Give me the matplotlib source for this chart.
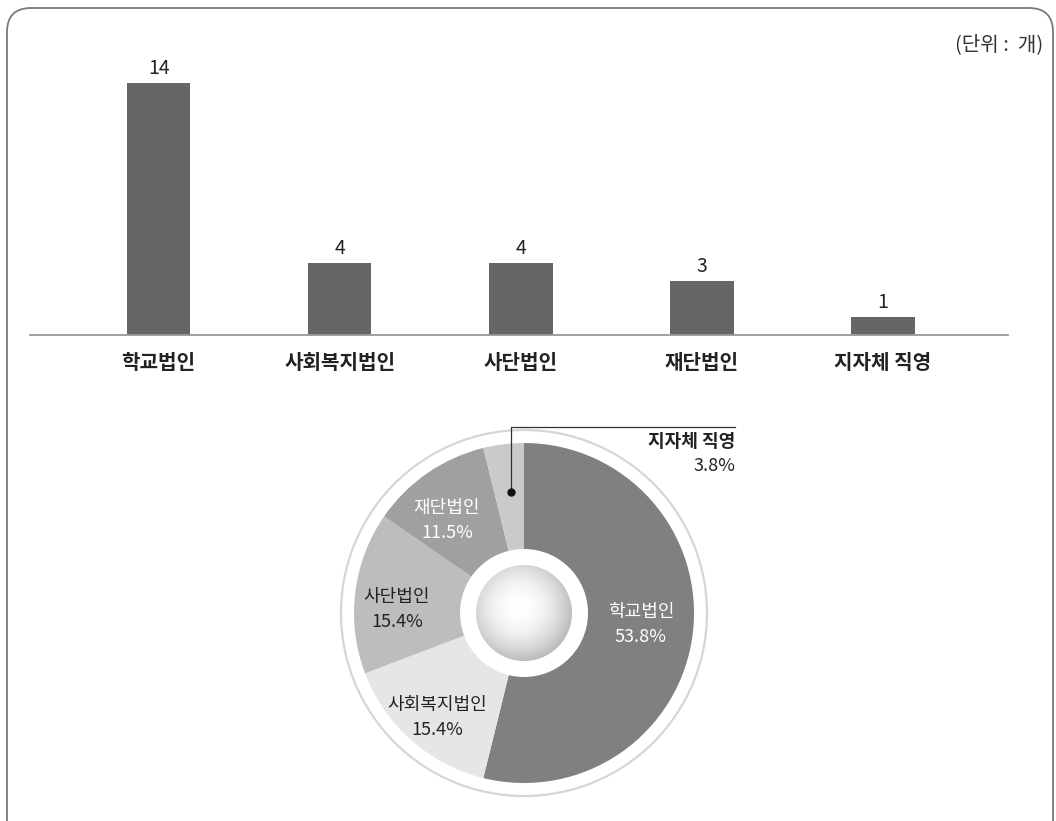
import numpy as np
import matplotlib
matplotlib.use('Agg')
import matplotlib.pyplot as plt
from matplotlib.patches import FancyBboxPatch, Circle

plt.rcParams['font.family'] = ['Noto Sans CJK KR', 'DejaVu Sans']

categories = ['학교법인', '사회복지법인', '사단법인', '재단법인', '지자체 직영']
counts = [14, 4, 4, 3, 1]
shares = [53.8, 15.4, 15.4, 11.5, 3.8]
unit_label = '(단위 :  개)'

bar_color = '#666666'
pie_colors = ['#808080', '#e6e6e6', '#bdbdbd', '#a0a0a0', '#cacaca']
label_colors = ['white', '#222222', '#222222', 'white', '#222222']
label_weights = ['normal', 'medium', 'medium', 'normal']

W, H = 1056, 821
fig = plt.figure(figsize=(W / 100, H / 100), dpi=100)

# background axes in pixel coordinates (y up)
bg = fig.add_axes([0, 0, 1, 1])
bg.set_xlim(0, W)
bg.set_ylim(0, H)
bg.axis('off')

border = FancyBboxPatch((7, -40), 1046, H - 8 + 40, boxstyle='round,pad=0,rounding_size=24',
                        fc='none', ec='#7a7a7a', lw=1.3)
bg.add_patch(border)
bg.text(1043, H - 45, unit_label, ha='right', va='center', fontsize=14.5, color='#333333')

# bar chart
base_px = 335
top_px = 60
ax = fig.add_axes([30 / W, (H - base_px) / H, (1008 - 30) / W, (base_px - top_px) / H])
x = np.arange(len(categories))
ax.bar(x, counts, width=0.35, color=bar_color)
ax.set_xlim(-0.71, 4.69)
ax.set_ylim(0, (base_px - top_px) / 18.0)
for xi, v in zip(x, counts):
    ax.text(xi, v + 0.2, str(v), ha='center', va='bottom', fontsize=14, color='#222222')
for s in ['top', 'right', 'left']:
    ax.spines[s].set_visible(False)
ax.spines['bottom'].set_color('#999999')
ax.spines['bottom'].set_linewidth(1.3)
ax.set_yticks([])
ax.set_xticks(x)
ax.set_xticklabels(categories, fontsize=14.5, fontweight='bold', color='#222222')
ax.tick_params(axis='x', length=0, pad=12)

# donut chart drawn in pixel coordinates
cx, cy = 524, H - 613
R = 170
bg.pie(counts, colors=pie_colors, startangle=90, counterclock=False, center=(cx, cy),
       radius=R, frame=True, wedgeprops=dict(width=R - 64, linewidth=0))
bg.set_xlim(0, W)
bg.set_ylim(0, H)
bg.set_aspect('auto')
bg.axis('off')

bg.add_patch(Circle((cx, cy), 183, fc='none', ec='#d6d6d6', lw=1.6))

# shaded sphere in the hole
rs = 48
n = 200
gx, gy = np.meshgrid(np.linspace(-rs, rs, n), np.linspace(-rs, rs, n))
d = np.sqrt((gx + 5) ** 2 + (gy - 6) ** 2) / (rs * 1.1)
shade = np.clip(1.0 - 0.25 * d ** 2.0, 0, 1)
img = bg.imshow(shade, cmap='gray', vmin=0, vmax=1, origin='lower',
                extent=(cx - rs, cx + rs, cy - rs, cy + rs), zorder=3)
clip = Circle((cx, cy), rs, transform=bg.transData)
img.set_clip_path(clip)
bg.set_xlim(0, W)
bg.set_ylim(0, H)

# wedge labels
label_pos = [(641, 612), (437, 705), (397, 597), (447, 508)]
for i, (lx, ly) in enumerate(label_pos):
    bg.text(lx, H - ly, categories[i], ha='center', va='center', fontsize=13,
            color=label_colors[i], fontweight=label_weights[i], zorder=4)
    bg.text(lx, H - ly - 25, f'{shares[i]}%', ha='center', va='center', fontsize=13,
            color=label_colors[i], fontweight=label_weights[i], zorder=4)

# callout for the small slice
bg.plot([511, 511, 735], [H - 492, H - 427, H - 427], color='#333333', lw=0.9, zorder=4)
bg.plot([511], [H - 492], 'o', color='#111111', ms=5, zorder=5)
bg.text(735, H - 441, categories[4], ha='right', va='center', fontsize=13,
        fontweight='bold', color='#222222')
bg.text(735, H - 466, f'{shares[4]}%', ha='right', va='center', fontsize=13, color='#222222')

fig.savefig('out.png', dpi=100)
